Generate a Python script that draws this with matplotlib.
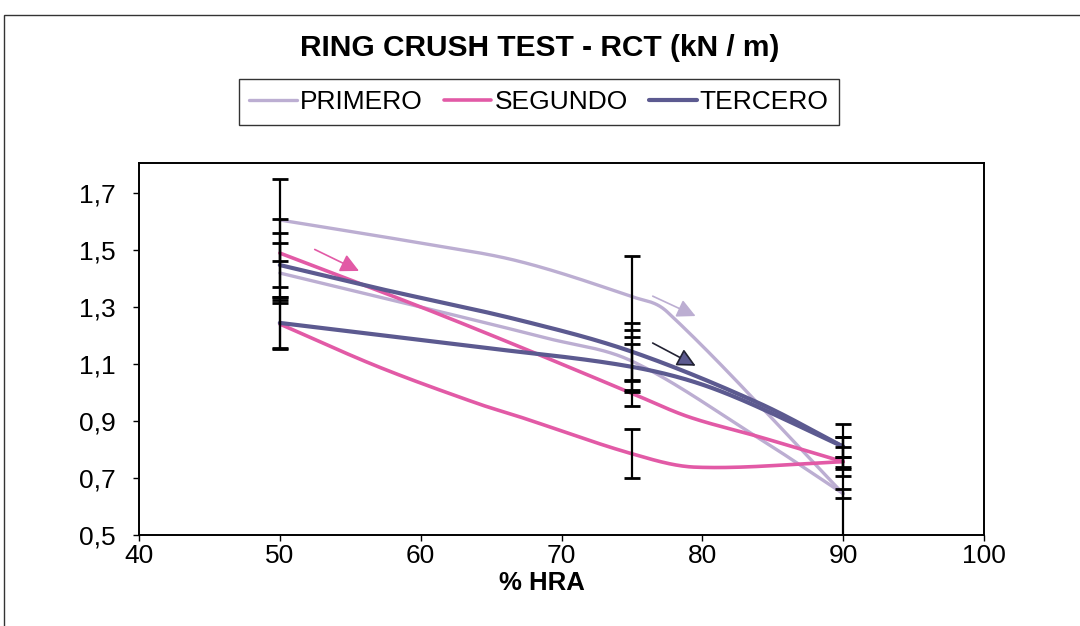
import numpy as np
import matplotlib
matplotlib.use("Agg")
import matplotlib.pyplot as plt
from matplotlib.patches import Rectangle

plt.rcParams['font.family'] = ['Liberation Sans', 'DejaVu Sans']

# ---- data -------------------------------------------------------------
# each sample has two branches (first pass / return pass)
primero_a_x = [50, 60, 67, 75, 77.5, 90]
primero_a_y = [1.605, 1.524, 1.46, 1.336, 1.283, 0.645]
primero_b_x = [50, 60, 69, 75, 84, 90]
primero_b_y = [1.419, 1.30, 1.19, 1.11, 0.84, 0.645]

segundo_a_x = [50, 60, 67, 75, 79, 84, 90]
segundo_a_y = [1.489, 1.30, 1.161, 0.997, 0.915, 0.845, 0.757]
segundo_b_x = [50, 57, 64, 67, 75, 79.5, 90]
segundo_b_y = [1.24, 1.09, 0.962, 0.915, 0.785, 0.738, 0.757]

tercero_a_x = [50, 57, 67, 75, 84, 90]
tercero_a_y = [1.447, 1.365, 1.254, 1.143, 0.963, 0.81]
tercero_b_x = [50, 64, 75, 81, 90]
tercero_b_y = [1.244, 1.16, 1.09, 1.01, 0.81]

# measured humidity levels carrying a dispersion value
err_x = [50, 75, 90]
primero_a_err = [0.144, 0.143, 0.20]
primero_b_err = [0.106, 0.11, 0.016]
segundo_a_err = [0.12, 0.044, 0.017]
segundo_b_err = [0.085, 0.086, 0.05]
tercero_a_err = [0.113, 0.10, 0.08]
tercero_b_err = [0.09, 0.08, 0.035]

x_ticks = [40, 50, 60, 70, 80, 90, 100]
y_ticks = [0.5, 0.7, 0.9, 1.1, 1.3, 1.5, 1.7]
y_tick_labels = ['0,5', '0,7', '0,9', '1,1', '1,3', '1,5', '1,7']

c_primero = '#bcaed2'
c_segundo = '#e25aa6'
c_tercero = '#5c5a90'


def smooth(xs, ys, n=40):
    """Cubic Hermite smoothing through the points, parametrised on x."""
    xs = np.asarray(xs, float)
    ys = np.asarray(ys, float)
    m = np.empty_like(ys)
    m[0] = (ys[1] - ys[0]) / (xs[1] - xs[0])
    m[-1] = (ys[-1] - ys[-2]) / (xs[-1] - xs[-2])
    m[1:-1] = (ys[2:] - ys[:-2]) / (xs[2:] - xs[:-2])
    out_x, out_y = [], []
    t = np.linspace(0, 1, n)
    h00 = 2 * t ** 3 - 3 * t ** 2 + 1
    h10 = t ** 3 - 2 * t ** 2 + t
    h01 = -2 * t ** 3 + 3 * t ** 2
    h11 = t ** 3 - t ** 2
    for i in range(len(xs) - 1):
        h = xs[i + 1] - xs[i]
        out_x.extend(xs[i] + t * h)
        out_y.extend(h00 * ys[i] + h10 * h * m[i] + h01 * ys[i + 1] + h11 * h * m[i + 1])
    return np.array(out_x), np.array(out_y)


fig = plt.figure(figsize=(10.8, 6.26), dpi=100)

# outer chart frame
fig.add_artist(Rectangle((4 / 1080, -0.1), 1.2, 1.1 - 15 / 626,
                         transform=fig.transFigure, fill=False,
                         edgecolor='#333333', linewidth=1.0))

ax = fig.add_axes([139 / 1080, 1 - 535 / 626, (984 - 139) / 1080, (535 - 163) / 626])

series = [
    ('PRIMERO', c_primero, 2.4, [(primero_a_x, primero_a_y, primero_a_err),
                                 (primero_b_x, primero_b_y, primero_b_err)]),
    ('SEGUNDO', c_segundo, 2.6, [(segundo_a_x, segundo_a_y, segundo_a_err),
                                 (segundo_b_x, segundo_b_y, segundo_b_err)]),
    ('TERCERO', c_tercero, 3.0, [(tercero_a_x, tercero_a_y, tercero_a_err),
                                 (tercero_b_x, tercero_b_y, tercero_b_err)]),
]

handles = []
for name, color, lw, branches in series:
    for k, (bx, by, berr) in enumerate(branches):
        sx, sy = smooth(bx, by)
        line, = ax.plot(sx, sy, color=color, lw=lw, solid_capstyle='round',
                        label=name if k == 0 else None, zorder=3)
        if k == 0:
            handles.append(line)

for name, color, lw, branches in series:
    for bx, by, berr in branches:
        ey = [by[list(bx).index(v)] for v in err_x]
        ax.errorbar(err_x, ey, yerr=berr, fmt='none', ecolor='black',
                    elinewidth=1.6, capsize=5.5, capthick=2.0, zorder=4)

# direction arrows
ax.annotate('', xy=(55.8, 1.422), xytext=(52.3, 1.506),
            arrowprops=dict(arrowstyle='-|>', color=c_segundo, lw=1.2,
                            mutation_scale=28), zorder=5)
ax.annotate('', xy=(79.7, 1.264), xytext=(76.3, 1.342),
            arrowprops=dict(arrowstyle='-|>', color=c_primero, lw=1.2,
                            mutation_scale=28), zorder=5)
ax.annotate('', xy=(79.7, 1.089), xytext=(76.3, 1.178),
            arrowprops=dict(arrowstyle='-|>', fc=c_tercero, ec='#222233', lw=1.2,
                            mutation_scale=28), zorder=5)

ax.set_xlim(40, 100)
ax.set_ylim(0.5, 1.805)
ax.set_xticks(x_ticks)
ax.set_xticklabels([str(v) for v in x_ticks])
ax.set_yticks(y_ticks)
ax.set_yticklabels(y_tick_labels)
ax.tick_params(direction='out', length=4.5, width=1, labelsize=19)
ax.tick_params(axis='y', pad=12)
ax.tick_params(axis='x', pad=2)
for s in ax.spines.values():
    s.set_linewidth(1.4)
    s.set_color('black')

fig.text(0.5, 1 - 48 / 626, 'RING CRUSH TEST - RCT (kN / m)', ha='center', va='center',
         fontsize=21.5, fontweight='bold')
fig.text(542 / 1080, 1 - 583 / 626, '% HRA', ha='center', va='center',
         fontsize=18.5, fontweight='bold')

leg = fig.legend(handles=handles, loc='center', bbox_to_anchor=(539 / 1080, 1 - 102 / 626),
                 ncol=3, fontsize=19, frameon=True, fancybox=False, shadow=False,
                 handlelength=1.8, handletextpad=0.12, columnspacing=0.8,
                 borderpad=0.4, edgecolor='black')
leg.get_frame().set_linewidth(1.0)

fig.savefig('out.png', dpi=100)
